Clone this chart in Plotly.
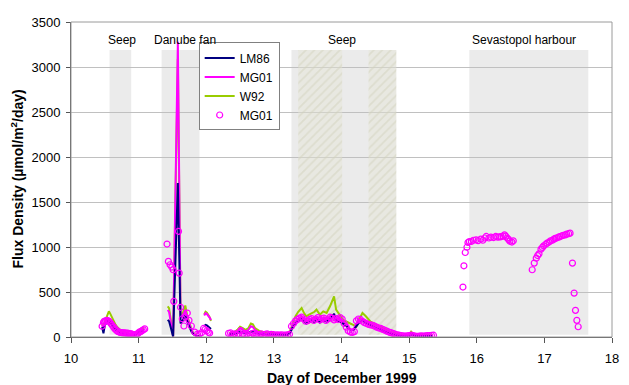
import plotly.graph_objects as go

# ---------------- data ----------------
# line series, segment by segment (None = gap between segments)
xA = [10.46, 10.48, 10.50, 10.52, 10.54, 10.56, 10.58, 10.60, 10.62, 10.64, 10.66, 10.69, 10.72,
      10.75, 10.78, 10.81, 10.84, 10.87, 10.90, 10.93, 10.96, 10.99, 11.02, 11.05, 11.08]
w92_A = [140, 110, 170, 210, 250, 285, 260, 225, 195, 165, 135, 105, 80, 65, 55, 48, 40, 32, 25, 30, 50, 70, 85, 95, 100]
mg01_A = [125, 100, 150, 175, 190, 200, 185, 160, 135, 110, 90, 70, 55, 45, 40, 36, 30, 24, 18, 22, 40, 55, 65, 75, 80]
lm86_A = [110, 40, 130, 160, 175, 180, 165, 140, 115, 95, 75, 58, 46, 40, 35, 30, 24, 18, 12, 18, 35, 50, 60, 65, 70]

xB = [11.43, 11.45, 11.47, 11.49, 11.51, 11.58, 11.62, 11.655, 11.69, 11.72, 11.75, 11.78, 11.81, 11.84, 11.87, 11.90]
w92_B = [340, 320, 220, 100, 5, 3090, 250, 270, 350, 230, 150, 90, 40, 20, 10, 10]
mg01_B = [300, 280, 190, 90, 5, 3280, 220, 240, 300, 210, 140, 80, 35, 18, 8, 8]
lm86_B = [190, 175, 120, 60, 5, 1710, 150, 190, 240, 170, 110, 60, 30, 15, 6, 6]

xC = [11.97, 11.99, 12.01, 12.03, 12.05, 12.07]
w92_C = [250, 280, 270, 250, 220, 180]
mg01_C = [240, 265, 255, 240, 215, 190]
lm86_C = [120, 135, 130, 115, 100, 90]

xD = [12.34, 12.38, 12.42, 12.46, 12.50, 12.54, 12.58, 12.62, 12.66, 12.69, 12.72, 12.76, 12.80, 12.85,
      12.90, 12.95, 13.00, 13.05, 13.10, 13.15, 13.20,
      13.24, 13.28, 13.32, 13.36, 13.41, 13.45, 13.48, 13.52, 13.56, 13.60, 13.63, 13.68, 13.73, 13.78,
      13.83, 13.89, 13.92, 13.97, 14.02, 14.06, 14.10, 14.14, 14.18, 14.22, 14.26, 14.31, 14.36, 14.43,
      14.50, 14.58, 14.65, 14.72, 14.78, 14.84,
      14.88, 14.92, 14.96, 15.00, 15.03, 15.06, 15.10, 15.15, 15.20, 15.25, 15.30, 15.35]
w92_D = [45, 50, 55, 80, 115, 100, 80, 95, 150, 140, 100, 80, 60, 55, 50, 50, 45, 40, 35, 32, 35,
         70, 150, 230, 280, 322, 260, 229, 250, 267, 280, 304, 248, 285, 267, 341, 452, 304, 248, 193,
         175, 163, 150, 137, 119, 193, 267, 230, 170, 140, 115, 85, 60, 45, 30,
         25, 20, 18, 20, 60, 35, 22, 20, 18, 18, 20, 20]
mg01_D = [35, 40, 45, 65, 95, 80, 65, 75, 120, 110, 80, 60, 45, 40, 38, 36, 32, 30, 26, 25, 28,
          60, 130, 170, 200, 230, 200, 170, 190, 210, 190, 220, 180, 215, 190, 230, 250, 200, 210, 180,
          150, 110, 80, 90, 150, 190, 200, 175, 140, 115, 90, 65, 45, 30, 20,
          18, 15, 14, 15, 45, 28, 16, 14, 13, 14, 15, 16]
lm86_D = [30, 32, 35, 45, 60, 50, 40, 45, 60, 55, 45, 38, 32, 30, 28, 28, 26, 24, 22, 20, 24,
          45, 110, 150, 180, 200, 175, 150, 165, 185, 165, 195, 160, 185, 170, 200, 258, 180, 175, 150,
          130, 100, 75, 80, 120, 160, 180, 160, 125, 100, 80, 55, 40, 25, 15,
          12, 10, 8, 3, 30, 18, 10, 8, 8, 9, 10, 10]

# MG01 point samples (circles)
circ_x1 = [10.46, 10.48, 10.49, 10.51, 10.53, 10.55, 10.57, 10.59, 10.61, 10.63, 10.65, 10.67, 10.69,
           10.71, 10.73, 10.75, 10.77, 10.79, 10.81, 10.83, 10.85, 10.87, 10.89, 10.91, 10.93, 10.95,
           10.97, 10.99, 11.01, 11.03, 11.05, 11.07, 11.09]
circ_y1 = [120, 160, 175, 180, 185, 180, 170, 150, 130, 110, 90, 75, 62, 55, 50, 48, 46, 45, 44, 42,
           40, 38, 35, 30, 28, 25, 30, 40, 55, 60, 70, 80, 90]
circ_x2 = [11.42, 11.44, 11.465, 11.49, 11.51, 11.52, 11.59, 11.60, 11.62, 11.645, 11.67, 11.69, 11.72,
           11.745, 11.78, 11.83, 11.87, 11.90, 11.93, 11.96, 11.98, 12.01, 12.03, 12.05]
circ_y2 = [1033, 840, 803, 777, 747, 396, 1174, 710, 330, 203, 122, 222, 266, 185, 122, 55, 33, 33,
           48, 95, 81, 70, 52, 44]
circ_x3 = [12.33, 12.36, 12.39, 12.42, 12.45, 12.48, 12.51, 12.54, 12.57, 12.60, 12.63, 12.66, 12.69,
           12.72, 12.75, 12.78, 12.81, 12.84, 12.87, 12.90, 12.93, 12.96, 12.99, 13.02, 13.05, 13.08,
           13.11, 13.14, 13.17, 13.20, 13.23]
circ_y3 = [40, 45, 30, 35, 20, 40, 70, 35, 25, 30, 15, 25, 40, 20, 30, 25, 35, 20, 30, 35, 25, 30,
           28, 22, 25, 20, 25, 22, 20, 25, 30]
circ_x4 = [13.26, 13.29, 13.32, 13.35, 13.38, 13.41, 13.44, 13.47, 13.50, 13.53, 13.56, 13.59, 13.62,
           13.65, 13.68, 13.71, 13.74, 13.77, 13.80, 13.83, 13.86, 13.89, 13.92, 13.95, 13.98, 14.01,
           14.04, 14.07, 14.10, 14.13, 14.16, 14.19, 14.22, 14.25, 14.28, 14.31, 14.34, 14.37, 14.40,
           14.43, 14.46, 14.49, 14.52, 14.55, 14.58, 14.61, 14.64, 14.67, 14.70, 14.73, 14.76, 14.79, 14.82]
circ_y4 = [120, 150, 180, 195, 210, 220, 200, 175, 180, 195, 205, 185, 200, 215, 190, 205, 210, 185,
           200, 220, 210, 190, 205, 195, 215, 200, 150, 110, 70, 55, 50, 60, 180, 200, 195, 175, 160,
           150, 140, 135, 130, 120, 110, 100, 95, 85, 75, 65, 55, 48, 40, 32, 25]
circ_x5 = [14.85, 14.88, 14.91, 14.94, 14.97, 15.00, 15.03, 15.06, 15.09, 15.12, 15.15, 15.18, 15.21,
           15.24, 15.27, 15.30, 15.33, 15.36]
circ_y5 = [20, 15, 12, 10, 12, 15, 20, 15, 10, 8, 10, 12, 10, 12, 15, 15, 18, 20]
circ_x6 = [15.796, 15.81, 15.83, 15.855, 15.87, 15.89, 15.92, 15.95, 15.99, 16.02, 16.06, 16.09, 16.12,
           16.14, 16.18, 16.21, 16.25, 16.28, 16.31, 16.34, 16.36, 16.39, 16.41, 16.43, 16.45, 16.47,
           16.49, 16.52, 16.54]
circ_y6 = [555, 791, 939, 998, 1050, 1060, 1061, 1075, 1080, 1070, 1087, 1075, 1100, 1117, 1100, 1110,
           1105, 1117, 1110, 1112, 1115, 1120, 1135, 1120, 1100, 1085, 1065, 1055, 1069]
circ_x7 = [16.82, 16.85, 16.88, 16.90, 16.92, 16.95, 16.97, 16.99, 17.02, 17.04, 17.07, 17.09, 17.12,
           17.14, 17.16, 17.18, 17.21, 17.23, 17.26, 17.28, 17.31, 17.33, 17.36, 17.38, 17.415, 17.44,
           17.46, 17.48, 17.50]
circ_y7 = [747, 821, 876, 905, 924, 976, 995, 1013, 1030, 1043, 1055, 1069, 1075, 1087, 1095, 1100,
           1110, 1115, 1125, 1130, 1135, 1143, 1148, 1154, 821, 488, 296, 185, 114]

# shaded survey regions
region_start = [10.57, 11.34, 13.26, 15.89]
region_end = [10.89, 11.90, 14.81, 17.65]
hatch_start = [13.36, 14.40]
hatch_end = [14.01, 14.81]
region_bottom = 25
region_top = 3190
label_text = ["Seep", "Danube fan", "Seep", "Sevastopol harbour"]
label_x = [10.75, 11.69, 14.01, 16.70]
label_y = 3300

x_ticks = list(range(10, 19))
y_ticks = list(range(0, 3501, 500))


def join(*segs):
    out = []
    for i, s in enumerate(segs):
        if i:
            out.append(None)
        out.extend(s)
    return out


X = join(xA, xB, xC, xD)
W92 = join(w92_A, w92_B, w92_C, w92_D)
MG01 = join(mg01_A, mg01_B, mg01_C, mg01_D)
LM86 = join(lm86_A, lm86_B, lm86_C, lm86_D)
CX = circ_x1 + circ_x2 + circ_x3 + circ_x4 + circ_x5 + circ_x6 + circ_x7
CY = circ_y1 + circ_y2 + circ_y3 + circ_y4 + circ_y5 + circ_y6 + circ_y7

FONT = "Liberation Sans, Arial, sans-serif"

fig = go.Figure()

# hatched sub-regions
for hs, he in zip(hatch_start, hatch_end):
    fig.add_trace(go.Scatter(
        x=[hs, he, he, hs, hs],
        y=[region_bottom, region_bottom, region_top, region_top, region_bottom],
        mode="lines", fill="toself", line=dict(width=0),
        fillcolor="rgba(0,0,0,0)",
        fillpattern=dict(shape="/", fgcolor="#d2d2bc", bgcolor="rgba(228,228,214,0.45)",
                         size=6, solidity=0.3, fillmode="overlay"),
        showlegend=False, hoverinfo="skip"))

fig.add_trace(go.Scatter(x=X, y=W92, mode="lines", name="W92", legendrank=3,
                         line=dict(color="#99cc00", width=2)))
fig.add_trace(go.Scatter(x=X, y=MG01, mode="lines", name="MG01", legendrank=2,
                         line=dict(color="#ff00ff", width=2)))
fig.add_trace(go.Scatter(x=X, y=LM86, mode="lines", name="LM86", legendrank=1,
                         line=dict(color="#000080", width=2)))
fig.add_trace(go.Scatter(x=CX, y=CY, mode="markers", name="MG01", legendrank=4,
                         marker=dict(symbol="circle-open", color="#ff00ff", size=6,
                                     line=dict(width=1.2, color="#ff00ff"))))

shapes = []
for rs, re_ in zip(region_start, region_end):
    shapes.append(dict(type="rect", xref="x", yref="y", x0=rs, x1=re_, y0=region_bottom, y1=region_top,
                       fillcolor="#ebebeb", line=dict(width=0), layer="below"))
# plot border (top/right)
shapes.append(dict(type="rect", xref="paper", yref="paper", x0=0, x1=1, y0=0, y1=1,
                   line=dict(color="#9a9a9a", width=1), fillcolor="rgba(0,0,0,0)", layer="above"))

annotations = [dict(x=lx, y=label_y, xref="x", yref="y", text=t, showarrow=False,
                    font=dict(size=12, color="black", family=FONT))
               for t, lx in zip(label_text, label_x)]
annotations.append(dict(x=0.5, y=0, xref="paper", yref="paper", yanchor="middle", yshift=-41,
                        text="<b>Day of December 1999</b>", showarrow=False,
                        font=dict(size=14, color="black", family=FONT)))
annotations.append(dict(x=0, y=0.5, xref="paper", yref="paper", xanchor="center", xshift=-54,
                        text="<b>Flux Density (µmol/m<sup>2</sup>/day)</b>", textangle=-90,
                        showarrow=False, font=dict(size=14, color="black", family=FONT)))

fig.update_layout(
    width=629, height=385,
    margin=dict(l=71, r=10, t=22, b=48),
    paper_bgcolor="white", plot_bgcolor="white",
    font=dict(family=FONT, size=13, color="black"),
    shapes=shapes, annotations=annotations,
    legend=dict(x=0.236, y=0.935, xanchor="left", yanchor="top",
                bordercolor="#808080", borderwidth=1, bgcolor="white",
                font=dict(size=12, family=FONT), tracegroupgap=0),
    xaxis=dict(range=[10, 18], tickvals=x_ticks, showgrid=False, zeroline=False,
               showline=True, linecolor="#555555", linewidth=1,
               ticks="outside", ticklen=5, tickcolor="#555555",
               tickfont=dict(size=13), ticklabelstandoff=4),
    yaxis=dict(range=[0, 3500], tickvals=y_ticks, showgrid=True, gridcolor="#c0c0c0",
               zeroline=False, showline=True, linecolor="#555555", linewidth=1,
               ticks="outside", ticklen=4, tickcolor="#555555",
               tickfont=dict(size=13), ticklabelstandoff=3),
    showlegend=True,
)

fig.write_html("out.html", config={"displayModeBar": False},
               post_script="document.body.style.margin='0';document.body.style.overflow='hidden';")
